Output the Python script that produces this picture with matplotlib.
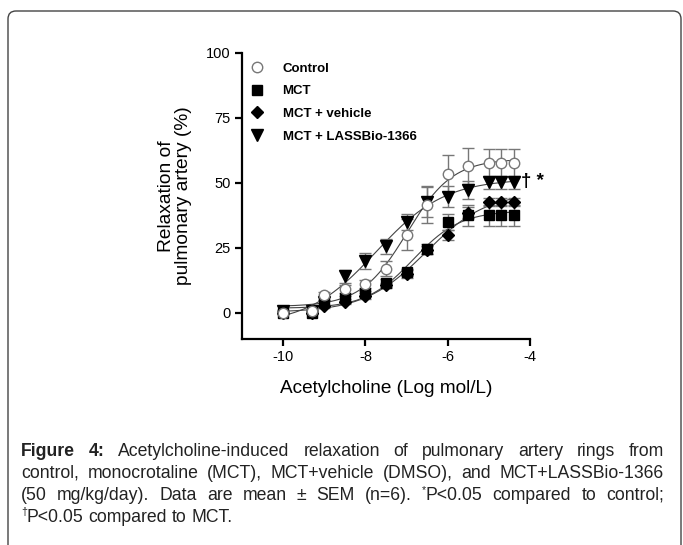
import numpy as np
import matplotlib
matplotlib.use('Agg')
import matplotlib.pyplot as plt
from matplotlib.patches import FancyBboxPatch
from matplotlib.lines import Line2D
import matplotlib.transforms as mtransforms

plt.rcParams['font.family'] = ['Liberation Sans', 'DejaVu Sans']
plt.rcParams['axes.unicode_minus'] = False

# ---- data ----
log_ach = [-10, -9.3, -9, -8.5, -8, -7.5, -7, -6.5, -6, -5.5, -5, -4.7, -4.4]
control = [0.0, 0.5, 7.0, 9.0, 11.0, 17.0, 30.0, 41.5, 53.5, 56.5, 57.5, 57.5, 57.5]
control_sem = [0.5, 0.5, 1.0, 1.5, 1.5, 3.0, 6.0, 7.0, 7.0, 7.0, 5.5, 5.5, 5.5]
mct = [0.0, 0.0, 4.0, 5.5, 7.5, 11.5, 15.5, 24.5, 35.0, 37.5, 37.5, 37.5, 37.5]
mct_sem = [0.5, 0.5, 1.0, 1.0, 1.0, 1.5, 1.5, 2.0, 3.0, 4.0, 4.0, 4.0, 4.0]
vehicle = [0.0, 0.0, 2.5, 4.2, 6.4, 10.5, 15.0, 24.0, 30.0, 38.5, 42.5, 42.5, 42.5]
vehicle_sem = [0.5, 0.5, 0.5, 1.0, 1.0, 1.0, 1.5, 1.5, 2.0, 2.0, 1.5, 1.5, 1.5]
lassbio = [0.5, 0.5, 4.0, 14.0, 20.0, 25.5, 35.0, 42.7, 44.6, 47.2, 50.2, 50.2, 50.2]
lassbio_sem = [0.5, 0.5, 1.0, 2.6, 3.0, 3.0, 3.0, 6.0, 4.0, 3.5, 2.5, 2.5, 2.5]

series_labels = ['Control', 'MCT', 'MCT + vehicle', 'MCT + LASSBio-1366']
x_ticks = [-10, -8, -6, -4]
y_ticks = [0, 25, 50, 75, 100]
x_label = 'Acetylcholine (Log mol/L)'
y_label = 'Relaxation of\npulmonary artery (%)'
annot = '† *'

caption_lines = [
    [[('Figure', 'bold', 0)], [('4:', 'bold', 0)], 'Acetylcholine-induced', 'relaxation', 'of',
     'pulmonary', 'artery', 'rings', 'from'],
    ['control,', 'monocrotaline', '(MCT),', 'MCT+vehicle', '(DMSO),', 'and', 'MCT+LASSBio-1366'],
    ['(50', 'mg/kg/day).', 'Data', 'are', 'mean', '±', 'SEM', '(n=6).',
     [('*', 'sup', 0), ('P<0.05', 'normal', 0)], 'compared', 'to', 'control;'],
    [[('†', 'sup', 0), ('P<0.05', 'normal', 0)], 'compared', 'to', 'MCT.'],
]


def fit_sigmoid(x, y):
    x = np.asarray(x, float)
    y = np.asarray(y, float)
    ec = np.arange(-9.5, -5.0, 0.01)
    hs = np.arange(0.3, 2.5, 0.02)
    E, H = np.meshgrid(ec, hs)
    E = E.ravel()[:, None]
    H = H.ravel()[:, None]
    s = 1.0 / (1.0 + 10 ** ((E - x[None, :]) * H))
    sm = s.mean(1, keepdims=True)
    ym = y.mean()
    b = ((s - sm) * (y - ym)).sum(1) / ((s - sm) ** 2).sum(1)
    a = ym - b * sm[:, 0]
    pred = a[:, None] + b[:, None] * s
    sse = ((pred - y[None, :]) ** 2).sum(1)
    i = np.argmin(sse)
    return a[i], b[i], E[i, 0], H[i, 0]


W, Hpx = 683, 545
fig = plt.figure(figsize=(W / 100, Hpx / 100), dpi=100)
fig.patch.set_facecolor('white')

# outer rounded frame
frame = FancyBboxPatch((8, -40), 673, 40 + Hpx - 11, boxstyle='round,pad=0,rounding_size=8',
                       transform=mtransforms.IdentityTransform(), facecolor='none',
                       edgecolor='#444444', lw=1.0)
fig.add_artist(frame)

ax = fig.add_axes([242 / W, 1 - 338.7 / Hpx, (530 - 242) / W, (338.7 - 52.7) / Hpx])
ax.set_xlim(-11, -4)
ax.set_ylim(-10, 100)

styles = [
    dict(marker='o', mfc='white', mec='#777777', ms=7.5, mew=1.0),
    dict(marker='s', mfc='black', mec='black', ms=7, mew=1.0),
    dict(marker='D', mfc='black', mec='black', ms=6.5, mew=1.0),
    dict(marker='v', mfc='black', mec='black', ms=8, mew=1.0),
]
data = [(control, control_sem), (mct, mct_sem), (vehicle, vehicle_sem), (lassbio, lassbio_sem)]
xs = np.linspace(min(log_ach), max(log_ach), 300)
order = [1, 2, 3, 0]
for k in order:
    yv, ev = data[k]
    a, b, e, h = fit_sigmoid(log_ach, yv)
    ax.plot(xs, a + b / (1 + 10 ** ((e - xs) * h)), color='#444444', lw=0.8, zorder=2)
for k in order:
    yv, ev = data[k]
    ax.errorbar(log_ach, yv, yerr=ev, fmt='none', ecolor='#777777', elinewidth=1.0,
                capsize=4.3, capthick=1.0, zorder=3)
    ax.plot(log_ach, yv, ls='none', zorder=4, **styles[k])

for side in ['top', 'right']:
    ax.spines[side].set_visible(False)
for side in ['left', 'bottom']:
    ax.spines[side].set_linewidth(1.6)
ax.set_xticks(x_ticks)
ax.set_yticks(y_ticks)
ax.tick_params(direction='out', length=5, width=1.6, labelsize=10.5, pad=3, colors='black')
ax.set_xlabel(x_label, fontsize=13.7, labelpad=12)
ax.set_ylabel(y_label, fontsize=13.8, labelpad=10, linespacing=1.05)

ax.text(-4.22, 50.5, annot, fontsize=13.5, fontweight='bold', va='center', ha='left')

handles = [Line2D([], [], ls='none', label=l, **s) for l, s in zip(series_labels, styles)]
ax.legend(handles=handles, loc='upper left', bbox_to_anchor=(0.008, 0.985), frameon=False,
          prop={'weight': 'bold', 'size': 9.5}, handletextpad=1.3, labelspacing=0.8,
          borderaxespad=0, handlelength=1.2)

# ---- justified caption ----
renderer = fig.canvas.get_renderer()
ident = mtransforms.IdentityTransform()
CFS = 12.7


def norm_word(wd):
    if isinstance(wd, str):
        return [(wd, 'normal', 0)]
    return wd


def piece_props(kind):
    if kind == 'bold':
        return dict(fontsize=CFS, fontweight='bold'), 0
    if kind == 'sup':
        return dict(fontsize=CFS * 0.6, fontweight='normal'), 6.5
    return dict(fontsize=CFS, fontweight='normal'), 0


def word_width(wd):
    tot = 0
    for s, kind, _ in norm_word(wd):
        p, _d = piece_props(kind)
        t = fig.text(0, 0, s, transform=ident, **p)
        tot += t.get_window_extent(renderer).width
        t.remove()
    return tot


def draw_word(wd, x, y):
    for s, kind, _ in norm_word(wd):
        p, dy = piece_props(kind)
        t = fig.text(x, y + dy, s, transform=ident, va='baseline', ha='left', color='#222222', **p)
        x += t.get_window_extent(renderer).width


sp = fig.text(0, 0, 'a a', fontsize=CFS, transform=ident)
sp_w = sp.get_window_extent(renderer).width
sp.remove()
sp2 = fig.text(0, 0, 'aa', fontsize=CFS, transform=ident)
sp_w -= sp2.get_window_extent(renderer).width
sp2.remove()

left_x, right_x = 21, 664
baselines = [Hpx - 455.5, Hpx - 477.5, Hpx - 499.5, Hpx - 521.5]
for li, (words, yb) in enumerate(zip(caption_lines, baselines)):
    widths = [word_width(w) for w in words]
    if li < len(caption_lines) - 1:
        gap = (right_x - left_x - sum(widths)) / (len(words) - 1)
    else:
        gap = sp_w
    x = left_x
    for w, wd in zip(words, widths):
        draw_word(w, x, yb)
        x += wd + gap

fig.savefig('out.png', dpi=100)
